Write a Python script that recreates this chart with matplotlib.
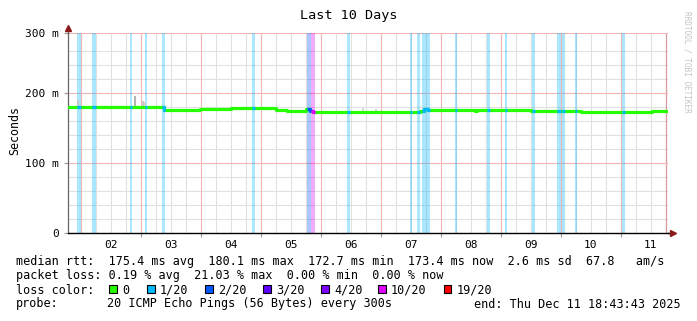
import matplotlib
matplotlib.use('Agg')
import matplotlib.patches as patches
import matplotlib.pyplot as plt
import numpy as np

# time axis in days since Dec 1 00:00
t_start = 0.7804
t_end = 10.7804

# median rtt (ms), step segments
seg_start = [0.780, 2.389, 2.989, 3.505, 4.255, 4.438, 4.755, 4.822, 4.872,
             6.655, 6.72, 6.788, 7.572, 7.605, 7.988, 8.505, 9.339, 10.522]
seg_ms = [181, 176, 177, 179, 176.5, 175, 178, 174, 173.5,
          175, 177, 176, 175, 176, 176.5, 174, 173.5, 174.5]

# packet loss periods
loss_start = [0.934, 1.189, 1.822, 2.072, 2.355, 3.855, 4.772, 4.834, 5.434,
              6.489, 6.605, 6.689, 7.239, 7.772, 8.072, 8.517, 8.939, 9.022,
              9.239, 10.017]
loss_end = [1.000, 1.250, 1.855, 2.105, 2.400, 3.905, 4.834, 4.905, 5.489,
            6.522, 6.655, 6.822, 7.267, 7.822, 8.105, 8.572, 9.000, 9.072,
            9.272, 10.072]
loss_level = ['1/20', '1/20', '1/20', '1/20', '1/20', '1/20', '2/20', '10/20',
              '1/20', '1/20', '1/20', '1/20', '1/20', '1/20', '1/20', '1/20',
              '1/20', '1/20', '1/20', '1/20']

# smoke spikes above the median
smoke_day = [0.955, 1.905, 2.035, 2.075, 5.70, 5.92]
smoke_top = [190, 196, 189, 188, 179, 178]
smoke_color = ['#c8c8c8', '#b4b4b4', '#c8c8c8', '#d2d2d2', '#d8d8d8', '#d8d8d8']

day_pos = [1.5, 2.5, 3.5, 4.5, 5.5, 6.5, 7.5, 8.5, 9.5, 10.5]
day_labels = ['02', '03', '04', '05', '06', '07', '08', '09', '10', '11']
y_top = 285.7
y_ticks = [0, 100, 200, y_top]
y_labels = ['0', '100 m', '200 m', '300 m']

loss_names = ['0', '1/20', '2/20', '3/20', '4/20', '10/20', '19/20']
loss_colors = ['#26ff00', '#00b8ff', '#0059ff', '#5e00ff', '#7e00ff',
               '#dd00ff', '#ff0000']
legend_left = [109, 147, 205, 263, 321, 378, 444]

W = 697.0
H = 321.0
mono = 'DejaVu Sans Mono'


def fx(px):
    return px / W


def fy(py):
    return 1 - py / H


def median_at(d):
    i = np.searchsorted(seg_start, d, side='right') - 1
    return seg_ms[max(i, 0)]


def main():
    fig = plt.figure(figsize=(W / 100, H / 100), dpi=100, facecolor='white')
    ax = fig.add_axes([fx(67.5), fy(233.3), 600 / W, 200 / H])
    ax.set_xlim(t_start, t_end)
    ax.set_ylim(0, y_top)
    cmap = dict(zip(loss_names, loss_colors))

    # grid
    for d in np.arange(1.0, 11.0, 0.25):
        if abs(d - round(d)) < 1e-6:
            ax.axvline(d, color='#f4b4b4', lw=0.8, zorder=0.6)
        elif d < t_end - 0.1:
            ax.axvline(d, color='#e0e0e0', lw=0.8, zorder=0.5)
    ax.axvline(10.75, color='#d89a9a', lw=0.9, zorder=0.6)
    for v in range(20, 270, 20):
        if v % 100:
            ax.axhline(v, color='#e0e0e0', lw=0.8, zorder=0.5)
    for v in [100, 200, y_top]:
        ax.axhline(v, color='#f4b4b4', lw=0.8, zorder=0.6)

    # loss background bands
    for s, e, lv in zip(loss_start, loss_end, loss_level):
        ax.axvspan(s, e, color=cmap[lv], alpha=0.33, lw=0, zorder=1)

    # smoke
    for d, top, c in zip(smoke_day, smoke_top, smoke_color):
        m = median_at(d)
        ax.bar(d, top - m, bottom=m, width=0.03, color=c, lw=0, zorder=2)

    # median line
    xs = seg_start + [t_end]
    ys = seg_ms + [seg_ms[-1]]
    ax.step(xs, ys, where='post', color=cmap['0'], lw=2.3, zorder=3,
            solid_capstyle='butt')
    for s, e, lv in zip(loss_start, loss_end, loss_level):
        px = [s] + [x for x in seg_start if s < x < e] + [e]
        py = [median_at(x) for x in px[:-1]]
        py = py + [py[-1]]
        ax.step(px, py, where='post', color=cmap[lv], lw=2.3, zorder=4,
                solid_capstyle='butt')

    # axes styling
    for side in ['top', 'right']:
        ax.spines[side].set_visible(False)
    ax.spines['left'].set_color('#666666')
    ax.spines['left'].set_linewidth(0.9)
    ax.spines['bottom'].set_color('black')
    ax.spines['bottom'].set_linewidth(1.0)
    ax.plot([t_start, t_start], [y_top, y_top + 5], color='#666666', lw=0.9,
            clip_on=False, zorder=5)
    ax.plot([t_end, t_end + 0.05], [0, 0], color='black', lw=1.0,
            clip_on=False, zorder=5)
    ax.plot([t_start], [y_top + 7], marker='^', color='#8b1a1a', ms=4,
            clip_on=False, zorder=6)
    ax.plot([t_end + 0.09], [0], marker='>', color='#8b1a1a', ms=4,
            clip_on=False, zorder=6)

    ax.set_xticks(range(2, 11))
    ax.set_xticklabels([])
    ax.set_xticks(day_pos, minor=True)
    ax.set_xticklabels(day_labels, minor=True, family=mono, fontsize=8)
    ax.tick_params(axis='x', which='major', length=3, width=0.8,
                   color='#999999')
    ax.tick_params(axis='x', which='minor', length=0, pad=4.5)
    ax.set_yticks(y_ticks)
    ax.set_yticklabels(y_labels, family=mono, fontsize=8)
    ax.tick_params(axis='y', length=3, width=0.8, color='#999999', pad=3)

    # texts
    fig.text(fx(349), fy(16), 'Last 10 Days', family=mono, fontsize=9.7,
             ha='center', va='center')
    fig.text(fx(15), fy(131), 'Seconds', family=mono, fontsize=8.4,
             rotation=90, ha='center', va='center')
    fig.text(fx(687), fy(62), 'RRDTOOL / TOBI OETIKER', family=mono,
             fontsize=5.6, color='#c4c4c4', rotation=270, ha='center',
             va='center')

    fs = 8.5
    fig.text(fx(16), fy(261),
             'median rtt:  175.4 ms avg  180.1 ms max  172.7 ms min  '
             '173.4 ms now  2.6 ms sd  67.8   am/s',
             family=mono, fontsize=fs, va='center')
    fig.text(fx(16), fy(276),
             'packet loss: 0.19 % avg  21.03 % max  0.00 % min  0.00 % now',
             family=mono, fontsize=fs, va='center')
    fig.text(fx(16), fy(290), 'loss color:', family=mono, fontsize=fs,
             va='center')
    for name, c, xl in zip(loss_names, loss_colors, legend_left):
        rect = patches.Rectangle(
            (fx(xl), fy(292.5)), 7.5 / W, 7.5 / H,
            transform=fig.transFigure, fc=c, ec='black', lw=0.8
        )
        fig.add_artist(rect)
        fig.text(fx(xl + 13), fy(290), name, family=mono, fontsize=fs,
                 va='center')
    fig.text(fx(16), fy(304), 'probe:', family=mono, fontsize=fs,
             va='center')
    fig.text(fx(107), fy(304), '20 ICMP Echo Pings (56 Bytes) every 300s',
             family=mono, fontsize=fs, va='center')
    fig.text(fx(681), fy(304), 'end: Thu Dec 11 18:43:43 2025', family=mono,
             fontsize=fs, va='center', ha='right')

    fig.savefig('out.png', dpi=100, facecolor='white')


if __name__ == '__main__':
    main()
